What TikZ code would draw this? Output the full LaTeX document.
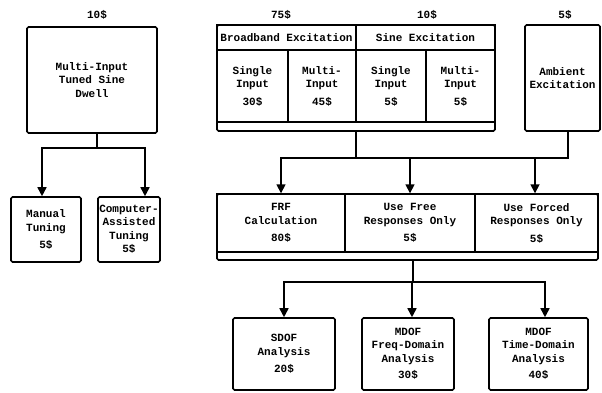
\documentclass[tikz,border=0pt]{standalone}
\usepackage{fontspec}
\setmonofont{Liberation Mono}
\usepackage{tikz}
\usetikzlibrary{positioning,arrows.meta}
\newcommand\boxfont{\ttfamily\bfseries\fontsize{11}{13.5}\selectfont}
\tikzset{
  box/.style={draw, line width=1.6pt, rounded corners=1.5pt, inner sep=0pt, align=center, font=\boxfont},
  cell/.style={draw, line width=1.4pt, inner sep=0pt, align=center, font=\boxfont},
  pct/.style={font=\boxfont},
  link/.style={line width=1.6pt},
  flow/.style={-{Triangle[length=9pt,width=9pt]}, line width=1.6pt}
}

\begin{document}
\begin{tikzpicture}[x=1pt, y=-1pt]
  \useasboundingbox (0,0) rectangle (602,392);

  % tuned sine dwell branch
  \node[box, minimum width=130pt, minimum height=106pt] (dwell) at (92,80) {Multi-Input\\Tuned Sine\\Dwell};
  \node[pct] (pdwell) at (97,15) {10\$};
  \node[box, minimum width=70pt, minimum height=65pt] (manual) at (46,229.5) {Manual\\Tuning\\[4pt]5\$};
  \node[box, minimum width=62pt, minimum height=65pt] (comp) at (129,229.5) {Computer-\\Assisted\\Tuning\\5\$};

  % excitation block
  \node[box, minimum width=278pt, minimum height=106pt] (exc) at (356,78) {};
  \node[cell, minimum width=139pt, minimum height=25pt] (bb) at (286.5,37.5) {Broadband Excitation};
  \node[cell, minimum width=139pt, minimum height=25pt] (se) at (425.5,37.5) {Sine Excitation};
  \node[cell, minimum width=71pt, minimum height=72pt] (bsi) at (252.5,86) {Single\\Input\\[4pt]30\$};
  \node[cell, minimum width=68pt, minimum height=72pt] (bmi) at (322,86) {Multi-\\Input\\[4pt]45\$};
  \node[cell, minimum width=70pt, minimum height=72pt] (ssi) at (391,86) {Single\\Input\\[4pt]5\$};
  \node[cell, minimum width=69pt, minimum height=72pt] (smi) at (460.5,86) {Multi-\\Input\\[4pt]5\$};
  \node[pct] (pbb) at (281,15) {75\$};
  \node[pct] (pse) at (427,15) {10\$};
  \node[box, minimum width=75pt, minimum height=106pt] (amb) at (562.5,78) {Ambient\\Excitation};
  \node[pct] (pamb) at (565,15) {5\$};

  % estimation block
  \node[box, minimum width=381pt, minimum height=66pt] (est) at (407.5,227) {};
  \node[cell, minimum width=128pt, minimum height=58pt] (frf) at (281,223) {FRF\\Calculation\\[4pt]80\$};
  \node[cell, minimum width=130pt, minimum height=58pt] (free) at (410,223) {Use Free\\Responses Only\\[4pt]5\$};
  \node[cell, minimum width=123pt, minimum height=58pt] (forced) at (536.5,223) {Use Forced\\Responses Only\\[4pt]5\$};

  % analysis boxes
  \node[box, minimum width=102pt, minimum height=72pt] (sdof) at (284,354) {SDOF\\Analysis\\[4pt]20\$};
  \node[box, minimum width=92pt, minimum height=72pt] (mfreq) at (408,354) {MDOF\\Freq-Domain\\Analysis\\[3pt]30\$};
  \node[box, minimum width=99pt, minimum height=72pt] (mtime) at (538.5,354) {MDOF\\Time-Domain\\Analysis\\[3pt]40\$};

  \coordinate (lbus) at (97,148);
  \coordinate (mbus) at (356,158);
  \coordinate (abus) at (413,282);

  \draw[link] ([xshift=5pt]dwell.south) -- (lbus);
  \draw[flow] (lbus) -| ([xshift=-4pt]manual.north);
  \draw[flow] (lbus) -| ([xshift=16pt]comp.north);

  \draw[link] (exc.south) -- (mbus);
  \draw[link] ([xshift=5.5pt]amb.south) |- (mbus);
  \draw[flow] (mbus) -| (frf.north);
  \draw[flow] (mbus) -| (free.north);
  \draw[flow] (mbus) -| ([xshift=-1.5pt]forced.north);

  \draw[link] ([xshift=5.5pt]est.south) -- (abus);
  \draw[flow] (abus) -| (sdof.north);
  \draw[flow] (abus) -| ([xshift=4pt]mfreq.north);
  \draw[flow] (abus) -| ([xshift=6.5pt]mtime.north);
\end{tikzpicture}
\end{document}
